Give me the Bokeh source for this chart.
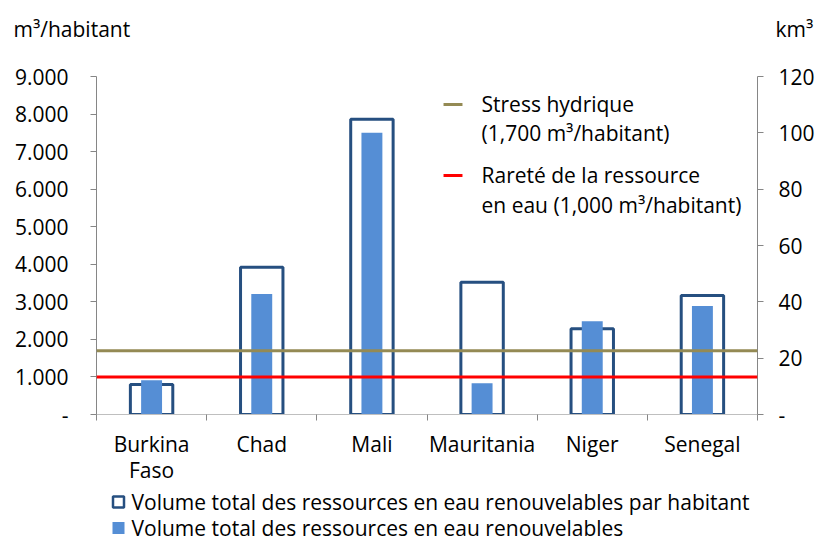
from bokeh.plotting import figure
from bokeh.layouts import column
from bokeh.models import Range1d, LinearAxis, FixedTicker, Span, Label, BoxAnnotation
from bokeh.core.properties import value
from bokeh.embed import file_html
from bokeh.resources import INLINE

# ---- data ----
countries = ["Burkina\nFaso", "Chad", "Mali", "Mauritania", "Niger", "Senegal"]
per_habitant = [800, 3920, 7860, 3520, 2280, 3170]       # m3/habitant (left axis)
total_km3 = [12.2, 42.8, 100, 11.1, 33.1, 38.5]           # km3 (right axis)
stress_level = 1700
scarcity_level = 1000
left_ticks = [0, 1000, 2000, 3000, 4000, 5000, 6000, 7000, 8000, 9000]
left_tick_labels = ["-", "1.000", "2.000", "3.000", "4.000", "5.000", "6.000", "7.000", "8.000", "9.000"]
right_ticks = [0, 20, 40, 60, 80, 100, 120]
right_tick_labels = ["-", "20", "40", "60", "80", "100", "120"]
axis_titles = ["m³/habitant", "km³"]
legend_labels = ["Volume total des ressources en eau renouvelables par habitant",
                 "Volume total des ressources en eau renouvelables"]

FONT = "Open Sans"
FS = "21px"
AXIS_GRAY = "#868686"
DARK_BLUE = "#264F80"
BAR_BLUE = "#558ED5"
GOLD = "#948A54"
RED = "#FF0000"

W = 821
TOP_H, MAIN_H, BOT_H = 56, 431, 55
FRAME_L, FRAME_R = 96, 757
n = len(countries)
centers = [i + 0.5 for i in range(n)]
bounds = [float(i) for i in range(n + 1)]


def bare(fig):
    fig.outline_line_color = None
    fig.xgrid.visible = False
    fig.ygrid.visible = False
    fig.background_fill_color = "white"
    fig.border_fill_color = "white"
    return fig


def unalign(fig):
    try:
        fig.frame_align = False
        return True
    except Exception:
        return False


# ---- main chart ----
p = bare(figure(width=W, height=MAIN_H, output_backend="svg", toolbar_location=None,
                x_range=Range1d(0, n), y_range=Range1d(0, 9000),
                min_border_left=FRAME_L, min_border_right=W - FRAME_R, min_border_top=20,
                min_border_bottom=73, x_axis_type=None, y_axis_type=None))
unaligned = unalign(p)
p.extra_y_ranges = {"km3": Range1d(0, 120)}

xa = LinearAxis(ticker=FixedTicker(ticks=centers, minor_ticks=bounds))
xa.major_label_overrides = {c: lab for c, lab in zip(centers, countries)}
xa.major_tick_line_color = None
xa.major_tick_out = 0
xa.major_tick_in = 0
xa.minor_tick_line_color = AXIS_GRAY
xa.minor_tick_out = 6
xa.minor_tick_in = 0
xa.axis_line_color = "#BFBFBF"
xa.major_label_standoff = 9
xa.major_label_text_font = FONT
xa.major_label_text_font_size = FS
xa.major_label_text_color = "black"
xa.major_label_text_line_height = 0.95
p.add_layout(xa, "below")

ya = LinearAxis(ticker=FixedTicker(ticks=left_ticks))
ya.major_label_overrides = {t: lab for t, lab in zip(left_ticks, left_tick_labels)}
ya.minor_tick_line_color = None
ya.major_tick_out = 6
ya.major_tick_in = 0
ya.major_tick_line_color = AXIS_GRAY
ya.axis_line_color = AXIS_GRAY
ya.major_label_standoff = 22
ya.major_label_text_font = FONT
ya.major_label_text_font_size = FS
ya.major_label_text_color = "black"
p.add_layout(ya, "left")

ra = LinearAxis(y_range_name="km3", ticker=FixedTicker(ticks=right_ticks))
ra.major_label_overrides = {t: lab for t, lab in zip(right_ticks, right_tick_labels)}
ra.minor_tick_line_color = None
ra.major_tick_out = 6
ra.major_tick_in = 0
ra.major_tick_line_color = AXIS_GRAY
ra.axis_line_color = AXIS_GRAY
ra.major_label_standoff = 15
ra.major_label_text_font = FONT
ra.major_label_text_font_size = FS
ra.major_label_text_color = "black"
p.add_layout(ra, "right")

p.vbar(x=centers, top=per_habitant, width=0.385, bottom=0,
       fill_color="white", line_color=DARK_BLUE, line_width=3)
p.vbar(x=centers, top=total_km3, width=0.19, bottom=0, y_range_name="km3",
       fill_color=BAR_BLUE, line_color=None)

p.add_layout(Span(location=stress_level, dimension="width", line_color=GOLD, line_width=3))
p.add_layout(Span(location=scarcity_level, dimension="width", line_color=RED, line_width=3))


def lab(x, y, text):
    p.add_layout(Label(x=x, y=y, text=text, text_font=FONT, text_font_size=FS,
                       text_color="black", text_baseline="middle", text_align="left"))


p.add_layout(BoxAnnotation(left=3.15, right=3.322, bottom=8255 - 40, top=8255 + 40,
                           fill_color=GOLD, fill_alpha=1, line_color=None))
p.add_layout(BoxAnnotation(left=3.15, right=3.322, bottom=6365 - 40, top=6365 + 40,
                           fill_color=RED, fill_alpha=1, line_color=None))
lab(3.495, 8255, "Stress hydrique")
lab(3.495, 7483, "(1,700 m³/habitant)")
lab(3.495, 6365, "Rareté de la ressource")
lab(3.495, 5566, "en eau (1,000 m³/habitant)")

# strips: page-pixel coordinates mapped onto their frames
if unaligned:
    strip_x = Range1d(0, W)
else:
    strip_x = Range1d(FRAME_L, FRAME_R)

# ---- top strip: axis titles ----
p_top = bare(figure(width=W, height=TOP_H, output_backend="svg", toolbar_location=None,
                    x_range=strip_x, y_range=Range1d(TOP_H, 0), min_border=0,
                    x_axis_type=None, y_axis_type=None))
unalign(p_top)
p_top.text(x=[13, 775], y=[28, 28], text=axis_titles, text_font=value(FONT),
           text_font_size=FS, text_color="black", text_baseline="middle", text_align="left")

# ---- bottom strip: legend ----
p_bot = bare(figure(width=W, height=BOT_H, output_backend="svg", toolbar_location=None,
                    x_range=Range1d(strip_x.start, strip_x.end), y_range=Range1d(BOT_H, 0),
                    min_border=0, x_axis_type=None, y_axis_type=None))
unalign(p_bot)
p_bot.rect(x=[118], y=[14.5], width=11, height=11, fill_color="white",
           line_color=DARK_BLUE, line_width=2.5)
p_bot.rect(x=[118], y=[40.5], width=12, height=12, fill_color=BAR_BLUE, line_color=None)
p_bot.text(x=[131, 131], y=[14.8, 40.3], text=legend_labels, text_font=value(FONT),
           text_font_size=FS, text_color="black", text_baseline="middle", text_align="left")

layout = column(p_top, p, p_bot, spacing=0)
open("out.html", "w").write(file_html(layout, INLINE))
